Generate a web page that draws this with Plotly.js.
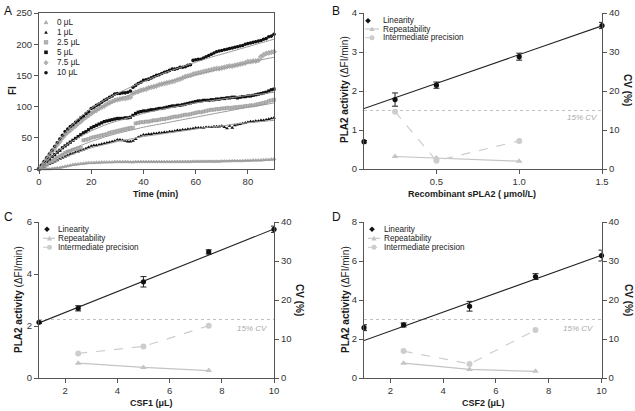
<!DOCTYPE html>
<html>
<head>
<meta charset="utf-8">
<script src="https://cdn.plot.ly/plotly-3.0.1.min.js"></script>
<style>html,body{margin:0;padding:0;background:#fff;}#chart{width:635px;height:411px;}</style>
</head>
<body>
<div id="chart"></div>
<script>
// ---------------- Panel A data (kinetics) ----------------
const timeMin = [0,1,2,3,4,5,6,7,8,9,10,11,12,13,14,15,16,17,18,19,20,21,22,23,24,25,26,27,28,29,30,31,32,33,34,35,36,37,38,39,40,41,42,43,44,45,46,47,48,49,50,51,52,53,54,55,56,57,58,59,60,61,62,63,64,65,66,67,68,69,70,71,72,73,74,75,76,77,78,79,80,81,82,83,84,85,86,87,88,89,90];
const fi0 = [0,0,0,0,0,0.5,1,1.5,2,3,4, 5,6,7,7.5,8,8.5,9,9.5,10,10, 10,10.5,10.5,11,11,11,11,11,11.5,11.5, 11.5,11.5,11.5,11.5,11,11,11.5,11.5,11.5,11.5, 11.5,11.5,11.5,11.5,11.5,11.5,11.5,11.5,11.5,11.5, 11.5,11.5,11.5,11.5,11.5,11.5,11.5,11.5,12,12, 12,12,12,12,12,12,12,12,12,12.5, 12.5,12.5,12.5,13,13,13,13,13,13.5,13.5, 13.5,14,14,14,14,14.5,15,15,15.5,16];
const fi1 = [0,2,4,6,8,10,12,14,16,18,20, 22,24,25,27,28,30,31,33,35,37, 38,38,39,40,41,42,43,44,45,47, 47,46,45,44,44,45,48,51,53,55, 55,56,56,57,57,58,58,59,59,60, 60,61,62,62,63,63,64,64,65,66, 66,66,66,67,67,67,68,68,68,69, 67,65,69,66,70,71,72,73,74,75, 76,76,77,77,78,78,79,80,81,82];
const fi2_5 = [0,2.5,5,8,10.5,13,15.5,18,20.5,23,26, 28,29,31,32,33,34,46,47,48,50, 51,52,53,54,55,56,58,59,60,61, 62,63,64,65,66,66,73,74,75,75, 76,76,77,78,78,79,80,80,81,82, 83,84,84,85,86,87,87,88,89,90, 91,91,92,93,94,95,95,96,96,97, 97,98,98,98,99,99,100,100,101,101, 102,102,103,104,105,106,107,109,110,111];
const fi5 = [0,4,8,12,16,20,23,27,30,34,37, 40,43,46,49,52,55,58,60,63,66, 68,70,72,74,76,77,78,79,80,81, 81,81,82,82,83,86,89,91,92,93, 93,94,95,95,96,97,97,98,99,100, 101,101,102,102,103,104,105,106,107,108, 109,109,110,110,110,111,111,112,112,113, 113,114,114,115,115,114,115,116,116,117, 117,118,119,120,121,122,123,125,127,128];
const fi7_5 = [0,5.5,11,17,22,28,33,39,44,50,55, 59,62,66,69,73,76,80,83,86,89, 92,94,97,99,101,104,106,108,110,111, 112,113,113,114,115,121,123,124,126,127, 128,130,131,132,133,135,136,137,138,139, 140,141,143,144,146,148,149,150,152,153, 154,155,156,157,158,159,160,161,161,162, 163,164,165,165,166,167,168,169,170,172, 172,173,173,174,180,183,185,186,187,188];
const fi10 = [0,6,12,18,24,30,36,42,48,54,60, 64,68,71,75,78,82,85,89,92,97, 99,102,104,107,110,112,115,117,120,121, 121,122,122,123,125,131,134,137,139,142, 143,144,146,148,150,151,153,155,156,158, 160,160,161,163,163,164,166,167,174,175, 176,176,178,180,182,184,186,188,189,190, 191,192,193,194,195,196,197,198,200,201, 202,203,204,205,206,208,209,212,213,216];
// fitted curves (read at 5-min steps)
const fitTime = [0,5,10,15,20,25,30,35,40,45,50,55,60,65,70,75,80,85,90];
const fit0 = [0,1,4,7,9,10,11,11.5,12,12,12,12.5,12.5,13,13,13.5,13.5,14,14.5];
const fit1 = [0,10,19,27,34,39,44,48,52,55,58,61,64,67,69,72,74,76,78];
const fit2_5 = [0,14,26,36,44,51,57,62,67,71,75,79,83,87,91,95,99,102,106];
const fit5 = [0,20,37,50,61,70,77,83,89,94,98,102,106,109,112,115,118,120,123];
const fit7_5 = [0,28,54,74,89,101,111,119,127,134,140,146,151,156,161,166,170,175,179];
const fit10 = [0,31,58,80,97,110,121,131,140,149,157,164,171,178,184,190,196,202,208];
const seriesLabelsA = ['0 μL','1 μL','2.5 μL','5 μL','7.5 μL','10 μL'];

// ---------------- Panel B ----------------
const concB = [0.0625, 0.25, 0.5, 1.0, 1.5];
const linB = [0.70, 1.78, 2.15, 2.88, 3.68];
const errB = [0.03, 0.17, 0.08, 0.09, 0.08];
const fitXB = [0.0625, 1.5];
const fitYB = [1.55, 3.67];
const cvConcB = [0.25, 0.5, 1.0];
const repB = [3.2, 2.8, 2.0];
const ipB = [14.7, 2.1, 7.2];

// ---------------- Panel C ----------------
const volC = [1, 2.5, 5, 7.5, 10];
const linC = [2.14, 2.68, 3.70, 4.85, 5.72];
const errC = [0.04, 0.10, 0.20, 0.08, 0.12];
const fitXC = [1, 10];
const fitYC = [2.12, 5.73];
const cvVolC = [2.5, 5, 7.5];
const repC = [3.8, 2.7, 1.9];
const ipC = [6.3, 8.1, 13.4];

// ---------------- Panel D ----------------
const volD = [1, 2.5, 5, 7.5, 10];
const linD = [2.58, 2.72, 3.68, 5.20, 6.28];
const errD = [0.15, 0.10, 0.25, 0.15, 0.28];
const fitXD = [1, 10];
const fitYD = [1.92, 6.29];
const cvVolD = [2.5, 5, 7.5];
const repD = [3.8, 2.2, 1.7];
const ipD = [6.9, 3.6, 12.3];

const cvLimit = 15;
const legendLabelsCV = ['Linearity','Repeatability','Intermediate precision'];

// ---------------- styling helpers ----------------
const W = 635, H = 411;
const px = x => x / W;
const py = y => 1 - y / H;
const FONT = '"Liberation Sans", Arial, sans-serif';
const BLACK = '#111111';
const GREY = '#b4b4b4';
const CVREP = '#c4c4c4';
const CVIP = '#cdcdcd';
const AXC = '#555555';

const traces = [];
// Panel A scatter
const aSeries = [
  {y: fi0, sym: 'triangle-up', col: GREY, size: 3.5},
  {y: fi1, sym: 'triangle-up', col: BLACK, size: 3.5},
  {y: fi2_5, sym: 'square', col: GREY, size: 3.2},
  {y: fi5, sym: 'square', col: BLACK, size: 3.2},
  {y: fi7_5, sym: 'diamond', col: GREY, size: 4},
  {y: fi10, sym: 'circle', col: BLACK, size: 3.6}
];
aSeries.forEach((s, i) => {
  traces.push({x: timeMin, y: s.y, type: 'scatter', mode: 'markers', xaxis: 'x', yaxis: 'y',
    name: seriesLabelsA[i], showlegend: false, cliponaxis: false,
    marker: {symbol: s.sym, color: s.col, size: s.size, line: {width: s.col === GREY ? 0.4 : 0, color: '#8a8a8a'}}});
});
[fit0, fit1, fit2_5, fit5, fit7_5, fit10].forEach(f => {
  traces.push({x: fitTime, y: f, type: 'scatter', mode: 'lines', xaxis: 'x', yaxis: 'y', showlegend: false,
    line: {color: '#9a9a9a', width: 1, shape: 'spline', smoothing: 0.8}, hoverinfo: 'skip'});
});

function cvPanel(xa, ya, ya2, xs, lin, err, fx, fy, cvx, rep, ip) {
  traces.push({x: cvx, y: rep, type: 'scatter', mode: 'lines+markers', xaxis: xa, yaxis: ya2, showlegend: false,
    line: {color: CVREP, width: 1.2}, marker: {symbol: 'triangle-up', size: 6, color: CVREP}, cliponaxis: false});
  traces.push({x: cvx, y: ip, type: 'scatter', mode: 'lines+markers', xaxis: xa, yaxis: ya2, showlegend: false,
    line: {color: CVIP, width: 1.2, dash: 'dash'}, marker: {symbol: 'circle', size: 6, color: CVIP}, cliponaxis: false});
  traces.push({x: fx, y: fy, type: 'scatter', mode: 'lines', xaxis: xa, yaxis: ya, showlegend: false,
    line: {color: '#222', width: 1.1}, hoverinfo: 'skip'});
  traces.push({x: xs, y: lin, type: 'scatter', mode: 'markers', xaxis: xa, yaxis: ya, showlegend: false, cliponaxis: false,
    marker: {symbol: 'circle', size: 5.2, color: BLACK},
    error_y: {type: 'data', array: err, visible: true, color: '#222', thickness: 1, width: 3}});
}
cvPanel('x2', 'y2', 'y5', concB, linB, errB, fitXB, fitYB, cvConcB, repB, ipB);
cvPanel('x3', 'y3', 'y6', volC, linC, errC, fitXC, fitYC, cvVolC, repC, ipC);
cvPanel('x4', 'y4', 'y7', volD, linD, errD, fitXD, fitYD, cvVolD, repD, ipD);

function ax(extra) {
  return Object.assign({showline: true, linecolor: AXC, linewidth: 1, ticks: 'outside', ticklen: 4, tickwidth: 1,
    tickcolor: AXC, showgrid: false, zeroline: false, tickfont: {family: FONT, size: 9.5, color: '#333'},
    automargin: false, fixedrange: true}, extra);
}
const yAdom = [py(169), py(13)];
const yCdom = [py(378), py(222)];
const layout = {
  width: W, height: H, margin: {l: 0, r: 0, t: 0, b: 0}, paper_bgcolor: '#fff', plot_bgcolor: 'rgba(0,0,0,0)',
  showlegend: false, font: {family: FONT, color: '#222'},
  xaxis: ax({domain: [px(39), px(274)], anchor: 'y', range: [0, 90], tick0: 0, dtick: 20, mirror: true}),
  yaxis: ax({domain: yAdom, anchor: 'x', range: [0, 250], tick0: 0, dtick: 50, mirror: true}),
  xaxis2: ax({domain: [px(364), px(602)], anchor: 'y2', range: [0.0625, 1.5], tickvals: [0.5, 1.0, 1.5], ticktext: ['0.5', '1.0', '1.5']}),
  yaxis2: ax({domain: yAdom, anchor: 'x2', range: [0, 4], dtick: 1}),
  yaxis5: ax({overlaying: 'y2', side: 'right', anchor: 'x2', range: [0, 40], dtick: 10}),
  xaxis3: ax({domain: [px(39), px(274)], anchor: 'y3', range: [1, 10], tick0: 0, dtick: 2}),
  yaxis3: ax({domain: yCdom, anchor: 'x3', range: [0, 6], dtick: 2}),
  yaxis6: ax({overlaying: 'y3', side: 'right', anchor: 'x3', range: [0, 40], dtick: 10}),
  xaxis4: ax({domain: [px(364), px(601.5)], anchor: 'y4', range: [1, 10], tick0: 0, dtick: 2}),
  yaxis4: ax({domain: yCdom, anchor: 'x4', range: [0, 8], dtick: 2}),
  yaxis7: ax({overlaying: 'y4', side: 'right', anchor: 'x4', range: [0, 40], dtick: 10}),
  shapes: [], annotations: []
};

// 15% CV reference lines
[['x2', 'y5'], ['x3', 'y6'], ['x4', 'y7']].forEach(([xa, ya]) => {
  layout.shapes.push({type: 'line', xref: xa + ' domain', x0: 0, x1: 1, yref: ya, y0: cvLimit, y1: cvLimit,
    line: {color: '#c0c0c0', width: 1, dash: 'dot'}, layer: 'below'});
});

function ann(text, x, y, opts) {
  layout.annotations.push(Object.assign({text: text, x: px(x), y: py(y), xref: 'paper', yref: 'paper', showarrow: false,
    xanchor: 'center', yanchor: 'middle', font: {family: FONT, size: 9, color: '#1a1a1a'}}, opts || {}));
}
// CV limit labels
const cvLab = {font: {family: FONT, size: 8, color: '#aaaaaa', style: 'italic'}};
ann(cvLimit + '% CV', 582, 117, cvLab);
ann(cvLimit + '% CV', 252, 328, cvLab);
ann(cvLimit + '% CV', 578, 328, cvLab);

// Panel letters
const letFont = {font: {family: FONT, size: 12, color: '#111'}};
ann('A', 8, 11, letFont); ann('B', 336, 11, letFont); ann('C', 8, 217, letFont); ann('D', 336, 217, letFont);

// Axis titles
const yt = {font: {family: FONT, size: 10, color: '#1a1a1a'}};
ann('<b>Time (min)</b>', 155.5, 194);
ann('<b>FI</b>', 12, 91, Object.assign({textangle: -90}, yt));
ann('<b>Recombinant sPLA2 ( μmol/L)</b>', 472, 194);
ann('<b>PLA2 activity</b> (ΔFI/min)', 345, 90, Object.assign({textangle: -90}, yt));
ann('<b>CV (%)</b>', 627, 90, Object.assign({textangle: 90}, yt));
ann('<b>CSF1 (μL)</b>', 151, 403);
ann('<b>PLA2 activity</b> (ΔFI/min)', 18, 300, Object.assign({textangle: -90}, yt));
ann('<b>CV (%)</b>', 300, 300, Object.assign({textangle: 90}, yt));
ann('<b>CSF2 (μL)</b>', 483.5, 403);
ann('<b>PLA2 activity</b> (ΔFI/min)', 345, 300, Object.assign({textangle: -90}, yt));
ann('<b>CV (%)</b>', 629, 300, Object.assign({textangle: 90}, yt));

// ---------------- manual legends (shapes + text) ----------------
function sym(kind, cx, cy, r, col, lineCol) {
  const base = {xref: 'paper', yref: 'paper', fillcolor: col, line: {width: lineCol ? 0.5 : 0, color: lineCol || col}};
  if (kind === 'circle') layout.shapes.push(Object.assign({type: 'circle', x0: px(cx - r), x1: px(cx + r), y0: py(cy + r), y1: py(cy - r)}, base));
  else if (kind === 'square') layout.shapes.push(Object.assign({type: 'rect', x0: px(cx - r), x1: px(cx + r), y0: py(cy + r), y1: py(cy - r)}, base));
  else if (kind === 'triangle') layout.shapes.push(Object.assign({type: 'path',
    path: `M${px(cx - r)},${py(cy + r * 0.8)} L${px(cx + r)},${py(cy + r * 0.8)} L${px(cx)},${py(cy - r)} Z`}, base));
  else if (kind === 'diamond') layout.shapes.push(Object.assign({type: 'path',
    path: `M${px(cx - r)},${py(cy)} L${px(cx)},${py(cy - r)} L${px(cx + r)},${py(cy)} L${px(cx)},${py(cy + r)} Z`}, base));
}
function seg(x0, x1, y, col, dash) {
  layout.shapes.push({type: 'line', xref: 'paper', yref: 'paper', x0: px(x0), x1: px(x1), y0: py(y), y1: py(y), line: {color: col, width: 1.1, dash: dash || 'solid'}});
}
const legFont = {xanchor: 'left', font: {family: FONT, size: 8.2, color: '#222'}};
// Legend A
const aRows = [22.3, 32.3, 42.3, 52.3, 62.7, 72.7];
const aSyms = [['triangle', GREY], ['triangle', BLACK], ['square', GREY], ['square', BLACK], ['diamond', GREY], ['circle', BLACK]];
aRows.forEach((yy, i) => {
  sym(aSyms[i][0], 46, yy, aSyms[i][0] === 'diamond' ? 2.2 : 1.8, aSyms[i][1], aSyms[i][1] === GREY ? '#8a8a8a' : null);
  ann(seriesLabelsA[i], 55, yy, legFont);
});
// CV legends
function cvLegend(linX, symX, l0, l1, textX, rows) {
  sym('diamond', linX, rows[0], 2.8, BLACK);
  seg(l0, l1, rows[1], CVREP); sym('triangle', symX, rows[1], 2.6, CVREP);
  seg(l0, l1, rows[2], CVIP, 'dash'); sym('circle', symX, rows[2], 2.5, CVIP);
  legendLabelsCV.forEach((t, i) => ann(t, textX, rows[i], legFont));
}
cvLegend(368, 372, 365, 379, 381, [20.7, 29, 37.7]);
cvLegend(47, 49.5, 43, 55, 55.5, [229.3, 238.3, 247.3]);
cvLegend(372, 374, 368, 380, 382, [229.3, 238.3, 247.3]);

Plotly.newPlot('chart', traces, layout, {displayModeBar: false, staticPlot: true});
</script>
</body>
</html>
